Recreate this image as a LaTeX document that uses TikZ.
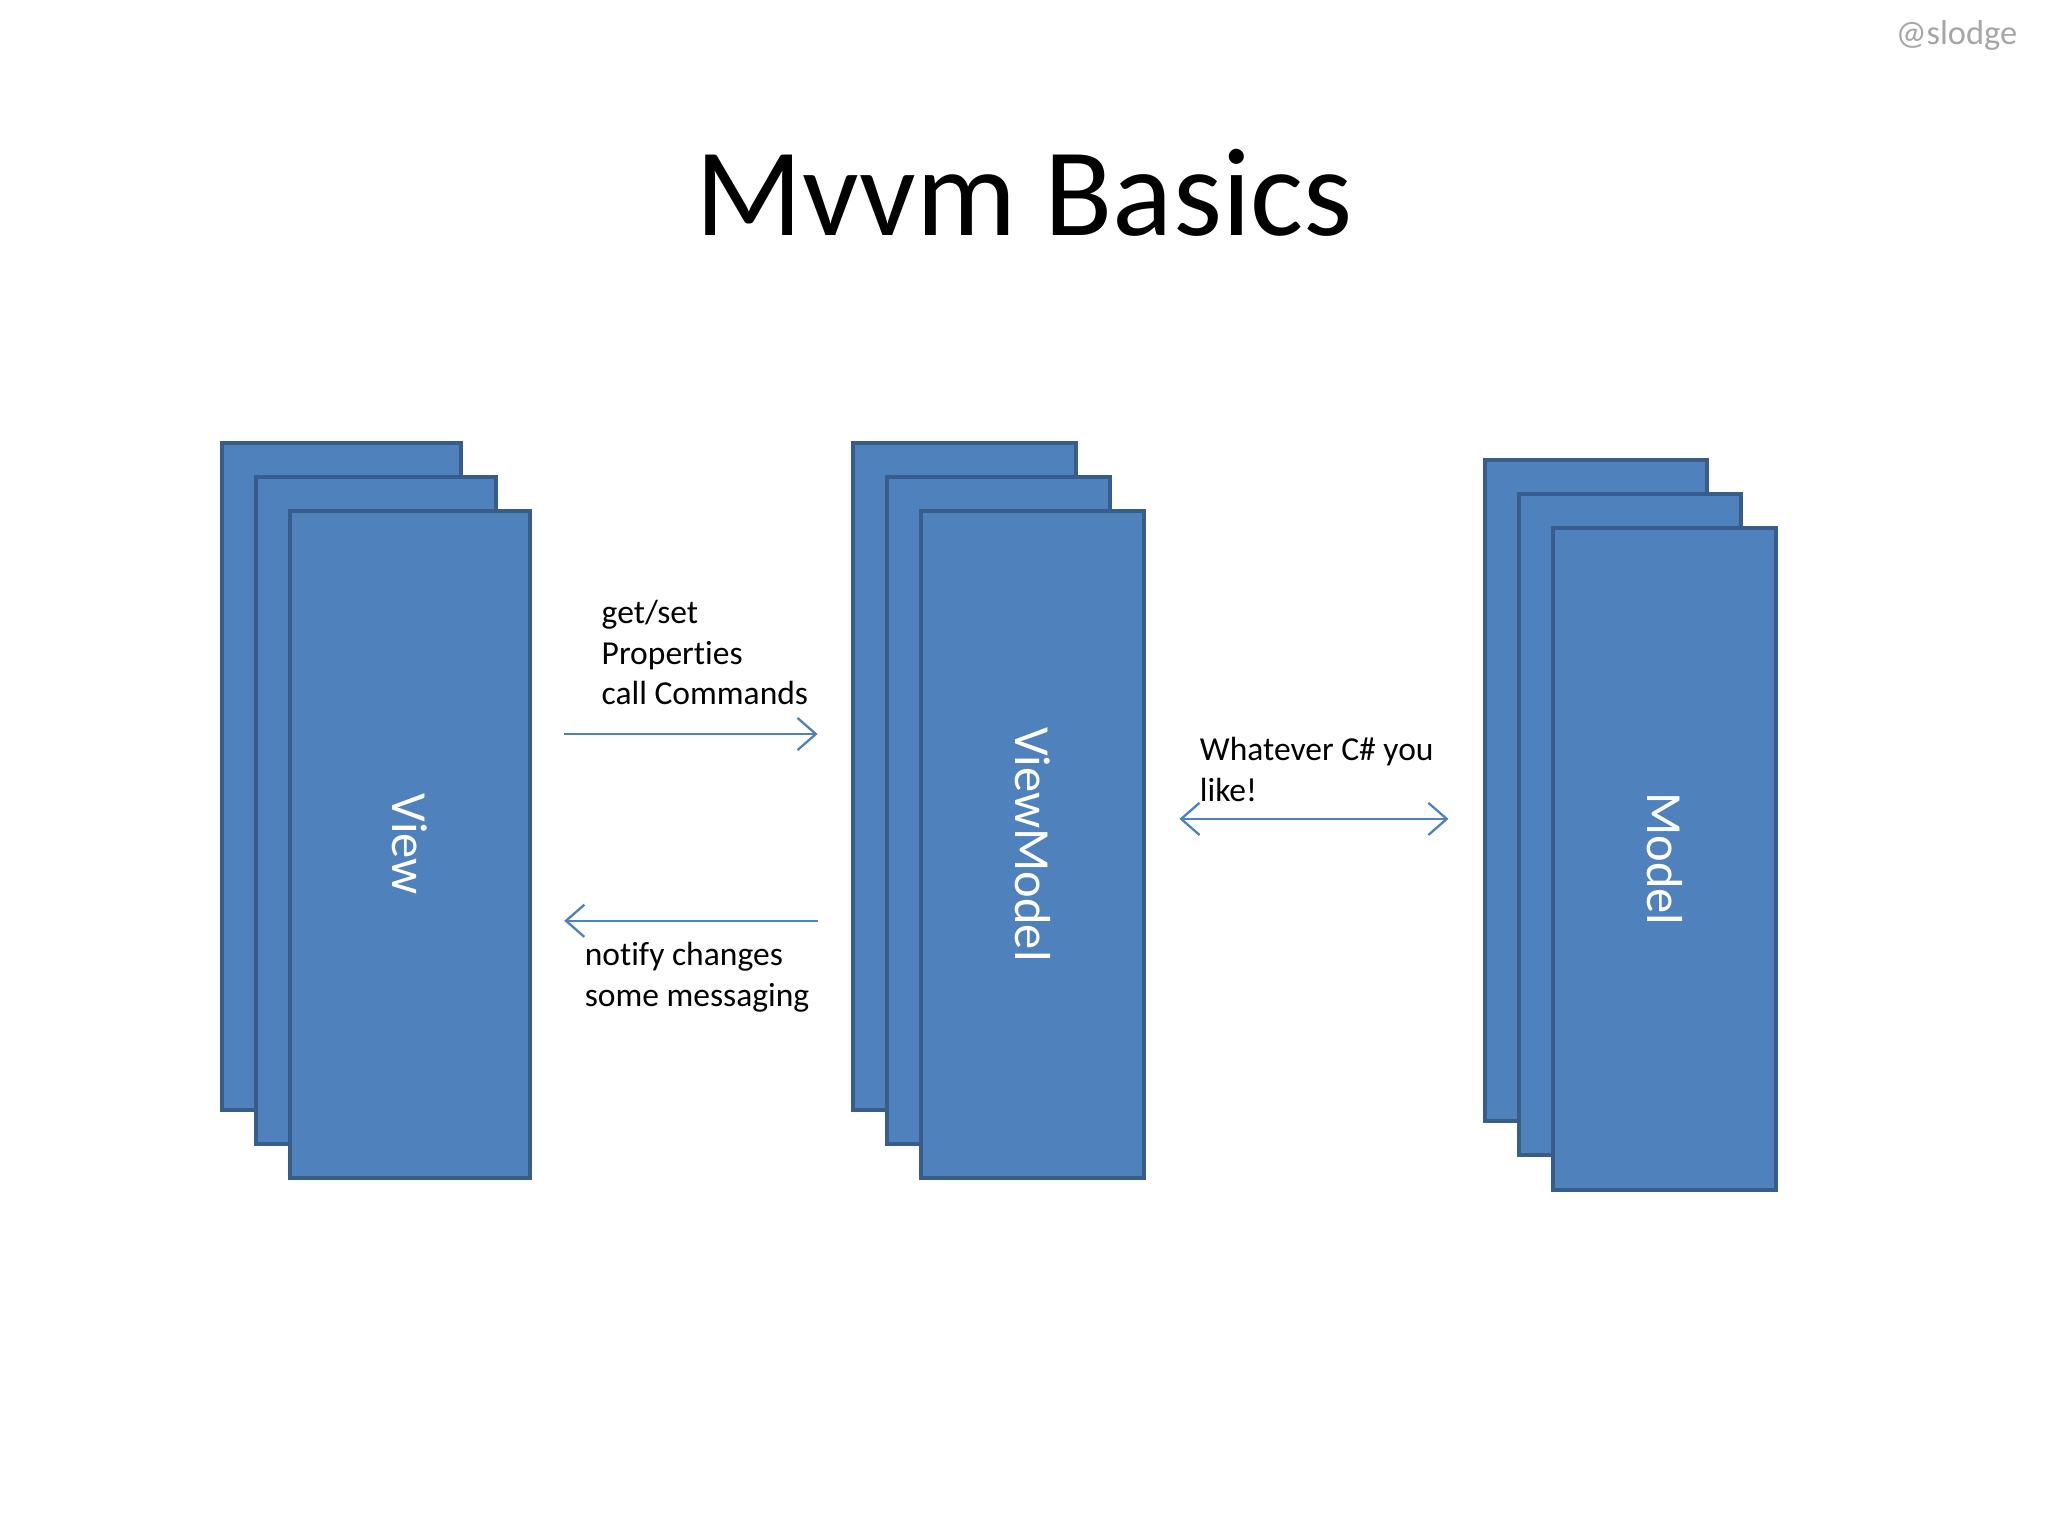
\documentclass[tikz,border=0pt]{standalone}
\usepackage{fontspec}
\setmainfont{Carlito}[Ligatures={NoCommon}]
\usetikzlibrary{arrows.meta}
\definecolor{boxfill}{HTML}{4F81BD}
\definecolor{boxline}{HTML}{385D8A}
\begin{document}
\begin{tikzpicture}[x=0.01cm,y=-0.01cm,
  card/.style={draw=boxline,fill=boxfill,line width=0.9pt},
  lbl/.style={font=\fontsize{11}{11}\selectfont,text=white,rotate=-90},
  note/.style={font=\fontsize{7.3}{8.8}\selectfont,align=left,anchor=north west,inner sep=0pt},
  conn/.style={draw=boxfill,line width=0.5pt,-{Straight Barb[length=4pt,width=7pt]}}]
\useasboundingbox (0,0) rectangle (1568,1176);
\fill[white] (0,0) rectangle (1568,1176);
\node[font=\fontsize{7.5}{7.5}\selectfont,text=black!35] (wm) at (1498,27) {@slodge};
\node[font=\fontsize{27.3}{27.3}\selectfont] (title) at (784,148) {Mvvm Basics};
% View
\draw[card] (170,339) rectangle (353,850);
\draw[card] (196,365) rectangle (380,876);
\draw[card] (222,391) rectangle (406,902);
\node (view) at (314,646.5) {};
\node[lbl] at (view) {View};
% ViewModel
\draw[card] (653,339) rectangle (824,850);
\draw[card] (679,365) rectangle (850,876);
\draw[card] (705,391) rectangle (876,902);
\node (vm) at (790.5,646.5) {};
\node[lbl] at (vm) {ViewModel};
% Model
\draw[card] (1137,352) rectangle (1307,858);
\draw[card] (1163,378) rectangle (1333,884);
\draw[card] (1189,404) rectangle (1360,911);
\node (model) at (1274.5,657.5) {};
\node[lbl] at (model) {Model};
% connectors
\coordinate (a1) at (432,562); \coordinate (a2) at (626,562);
\coordinate (b1) at (626,705); \coordinate (b2) at (432,705);
\coordinate (c1) at (903,627); \coordinate (c2) at (1109,627);
\draw[conn] (a1) -- (a2);
\draw[conn] (b1) -- (b2);
\draw[conn,{Straight Barb[length=4pt,width=7pt]}-{Straight Barb[length=4pt,width=7pt]}] (c1) -- (c2);
\node[note] (n1) at (460,459) {get/set\\Properties\\call Commands};
\node[note] (n2) at (447,721) {notify changes\\some messaging};
\node[note] (n3) at (918,564) {Whatever C\# you\\like!};
\end{tikzpicture}
\end{document}
